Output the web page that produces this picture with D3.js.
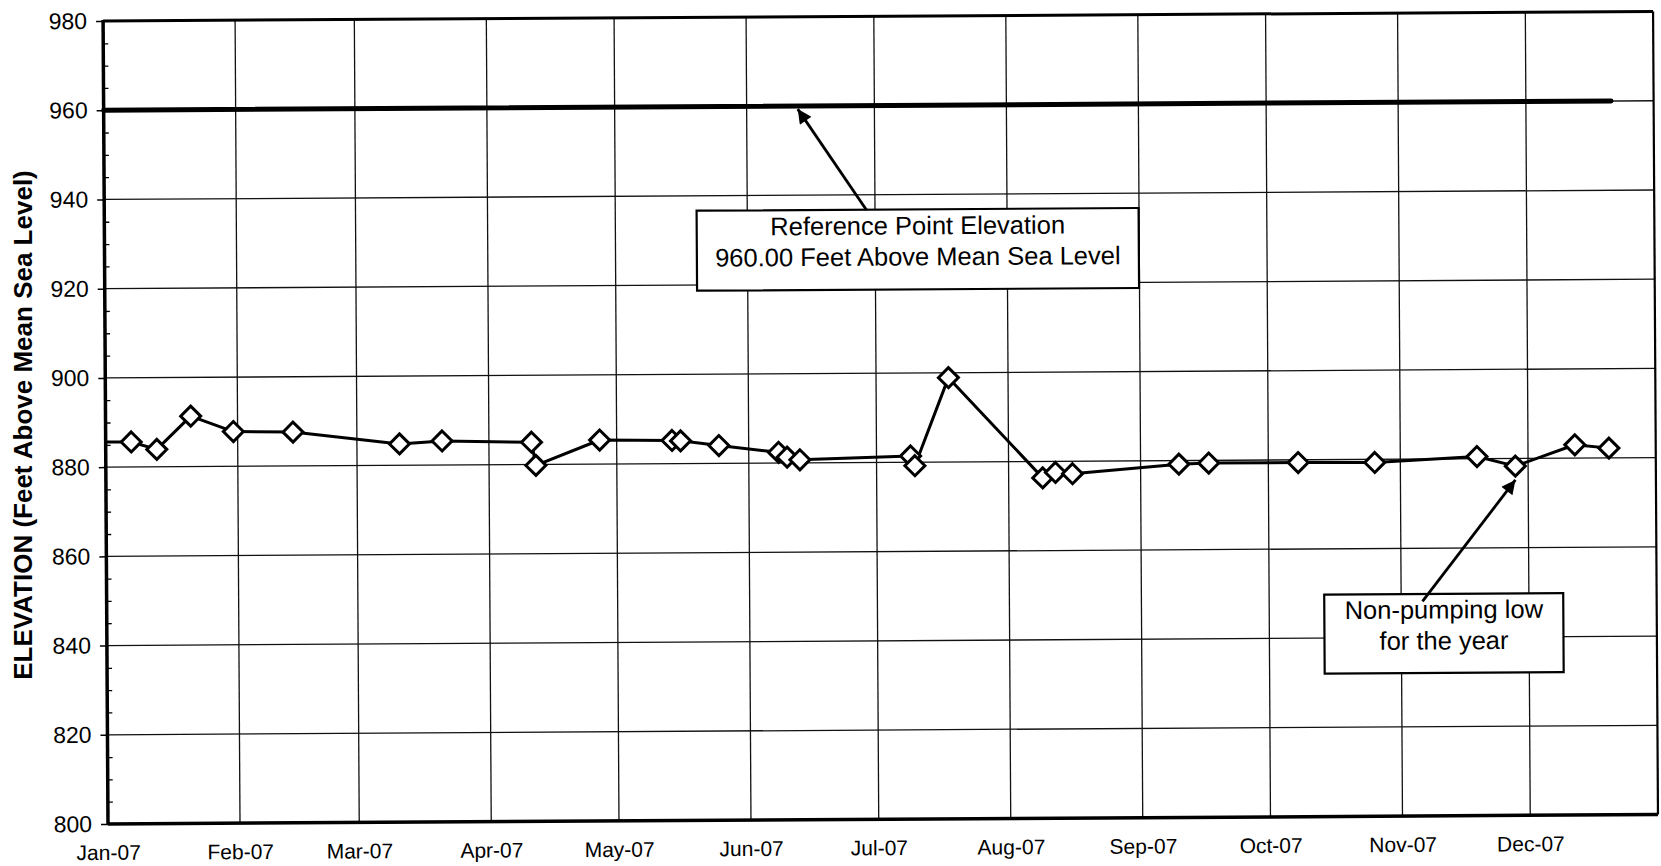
<!DOCTYPE html>
<html>
<head>
<meta charset="utf-8">
<script src="https://cdn.jsdelivr.net/npm/d3@7"></script>
<style>
  body { margin: 0; background: #fff; }
  svg { font-family: Arial, 'Liberation Sans', sans-serif; }
</style>
</head>
<body>
<div id="graph"></div>
<script>
'use strict'

// water level readings (first one is late 2006, clipped by the plot area)
const sampleDates = [
  '2006-12-20', '2007-01-07', '2007-01-13', '2007-01-21', '2007-01-31', '2007-02-14',
  '2007-03-11', '2007-03-21', '2007-04-11', '2007-04-12', '2007-04-27', '2007-05-14',
  '2007-05-16', '2007-05-25', '2007-06-08', '2007-06-10', '2007-06-13', '2007-07-09',
  '2007-07-10', '2007-07-18', '2007-08-09', '2007-08-12', '2007-08-16', '2007-09-10',
  '2007-09-17', '2007-10-08', '2007-10-26', '2007-11-19', '2007-11-28', '2007-12-12',
  '2007-12-20'
]
const elevations = [
  885.7, 885.6, 883.9, 891.3, 887.8, 887.6,
  884.8, 885.4, 885.0, 879.8, 885.4, 885.2,
  885.1, 884.0, 882.4, 881.3, 880.7, 881.4,
  879.2, 898.9, 876.3, 877.5, 877.2, 879.2,
  879.4, 879.4, 879.3, 880.5, 878.3, 883.0,
  882.2
]

// reference point elevation
const refDates = ['2007-01-01', '2007-12-21']
const refElevations = [960, 960]

const monthLabels = ['Jan-07', 'Feb-07', 'Mar-07', 'Apr-07', 'May-07', 'Jun-07',
  'Jul-07', 'Aug-07', 'Sep-07', 'Oct-07', 'Nov-07', 'Dec-07']
const yTicks = [800, 820, 840, 860, 880, 900, 920, 940, 960, 980]
const yMinor = d3.range(805, 980, 5).filter(v => v % 20 !== 0)

// callouts: box centre (date, value), arrow tail and tip (date, value)
const noteText = [
  ['Reference Point Elevation', '960.00 Feet Above Mean Sea Level'],
  ['Non-pumping low', 'for the year']
]
const noteCenter = [['2007-07-11', 927.7], ['2007-11-11', 840.9]]
const noteSize = [[442, 80], [239, 79]]
const arrowFrom = [['2007-06-29', 936.6], ['2007-11-06', 848.1]]
const arrowTo = [['2007-06-13', 959.3], ['2007-11-28', 875.2]]

const parse = d3.timeParse('%Y-%m-%d')
const data = sampleDates.map((d, i) => ({ date: parse(d), value: elevations[i] }))
const refData = refDates.map((d, i) => ({ date: parse(d), value: refElevations[i] }))
const monthDates = monthLabels.map((m, i) => new Date(2007, i, 1))

let cw = 1661, ch = 866
let margin = { top: 21, left: 108 },
  width = 1550,
  height = 803

let svg = d3.select('#graph').append('svg')
  .attr('width', cw)
  .attr('height', ch)

// the scanned page sits a little crooked
let g = svg.append('g')
  .attr('transform', `rotate(-0.35, ${margin.left}, ${margin.top + height}) translate(${margin.left}, ${margin.top})`)

let x = d3.scaleTime()
  .domain([new Date(2007, 0, 1), new Date(2007, 11, 31)])
  .range([0, width])
let y = d3.scaleLinear()
  .domain([800, 980])
  .range([height, 0])

svg.append('defs').append('clipPath')
  .attr('id', 'plot')
  .append('rect')
    .attr('width', width)
    .attr('height', height)

let marker = svg.select('defs').append('marker')
  .attr('id', 'head')
  .attr('viewBox', '0 0 10 10')
  .attr('refX', 10)
  .attr('refY', 5)
  .attr('markerUnits', 'userSpaceOnUse')
  .attr('markerWidth', 19)
  .attr('markerHeight', 14)
  .attr('orient', 'auto')
marker.append('path')
  .attr('d', 'M0,0L10,5L0,10Z')
  .attr('fill', '#000')

// grid
g.append('g')
  .selectAll('line')
  .data(yTicks.filter(v => v > 800 && v < 980))
  .join('line')
    .attr('x1', 0)
    .attr('x2', width)
    .attr('y1', d => y(d))
    .attr('y2', d => y(d))
    .attr('stroke', '#111')
    .attr('stroke-width', 1.3)

g.append('g')
  .selectAll('line')
  .data(monthDates.slice(1))
  .join('line')
    .attr('x1', d => x(d))
    .attr('x2', d => x(d))
    .attr('y1', 0)
    .attr('y2', height)
    .attr('stroke', '#111')
    .attr('stroke-width', 1.3)

// y axis
let yAxis = g.append('g')
  .call(d3.axisLeft(y).tickValues(yTicks).tickSize(7).tickPadding(9))
yAxis.select('.domain').remove()
yAxis.selectAll('line').attr('stroke', '#000').attr('stroke-width', 1.5)
yAxis.selectAll('text')
  .attr('fill', '#000')
  .style('font-size', '23px')

let yMinorAxis = g.append('g')
  .call(d3.axisLeft(y).tickValues(yMinor).tickSize(-5).tickFormat(''))
yMinorAxis.select('.domain').remove()
yMinorAxis.selectAll('line').attr('stroke', '#000').attr('stroke-width', 1.3)

// x axis
let xAxis = g.append('g')
  .attr('transform', `translate(0, ${height})`)
  .call(d3.axisBottom(x).tickValues(monthDates).tickSize(0).tickPadding(21)
    .tickFormat((d, i) => monthLabels[i]))
xAxis.select('.domain').remove()
xAxis.selectAll('text')
  .attr('fill', '#000')
  .style('font-size', '21px')

// frame
g.append('line').attr('x1', 0).attr('x2', width).attr('y1', 0).attr('y2', 0)
  .attr('stroke', '#000').attr('stroke-width', 3)
g.append('line').attr('x1', width).attr('x2', width).attr('y1', 0).attr('y2', height)
  .attr('stroke', '#000').attr('stroke-width', 2.2)
g.append('line').attr('x1', 0).attr('x2', width).attr('y1', height).attr('y2', height)
  .attr('stroke', '#000').attr('stroke-width', 3.5)
g.append('line').attr('x1', 0).attr('x2', 0).attr('y1', -1).attr('y2', height + 1)
  .attr('stroke', '#000').attr('stroke-width', 3.5)

let line = d3.line()
  .x(d => x(d.date))
  .y(d => y(d.value))

// reference elevation line
g.append('path')
  .datum(refData)
  .attr('fill', 'none')
  .attr('stroke', '#000')
  .attr('stroke-width', 5)
  .attr('stroke-linecap', 'round')
  .attr('d', line)

// measured levels
let series = g.append('g').attr('clip-path', 'url(#plot)')
series.append('path')
  .datum(data)
  .attr('fill', 'none')
  .attr('stroke', '#000')
  .attr('stroke-width', 3)
  .attr('stroke-linejoin', 'round')
  .attr('d', line)

series.selectAll('.pt')
  .data(data)
  .join('path')
    .attr('class', 'pt')
    .attr('transform', d => `translate(${x(d.date)}, ${y(d.value)})`)
    .attr('d', 'M0,-10L10,0L0,10L-10,0Z')
    .attr('fill', '#fff')
    .attr('stroke', '#000')
    .attr('stroke-width', 3)

// callouts
noteText.forEach((lines, i) => {
  let cx = x(parse(noteCenter[i][0])), cy = y(noteCenter[i][1])
  let [w, h] = noteSize[i]
  let note = g.append('g')
  note.append('rect')
    .attr('x', cx - w / 2)
    .attr('y', cy - h / 2)
    .attr('width', w)
    .attr('height', h)
    .attr('fill', '#fff')
    .attr('stroke', '#000')
    .attr('stroke-width', 2.2)
  note.selectAll('text')
    .data(lines)
    .join('text')
      .attr('x', cx)
      .attr('y', (d, j) => cy - 15 + j * 31)
      .attr('text-anchor', 'middle')
      .attr('fill', '#000')
      .style('font-size', '25.5px')
      .text(d => d)
  g.append('line')
    .attr('x1', x(parse(arrowFrom[i][0])))
    .attr('y1', y(arrowFrom[i][1]))
    .attr('x2', x(parse(arrowTo[i][0])))
    .attr('y2', y(arrowTo[i][1]))
    .attr('stroke', '#000')
    .attr('stroke-width', 2.8)
    .attr('marker-end', 'url(#head)')
})

svg.append('text')
  .attr('transform', 'translate(32, 425) rotate(-90)')
  .attr('text-anchor', 'middle')
  .attr('fill', '#000')
  .style('font-size', '26px')
  .style('font-weight', 'bold')
  .text('ELEVATION (Feet Above Mean Sea Level)')
</script>
</body>
</html>
